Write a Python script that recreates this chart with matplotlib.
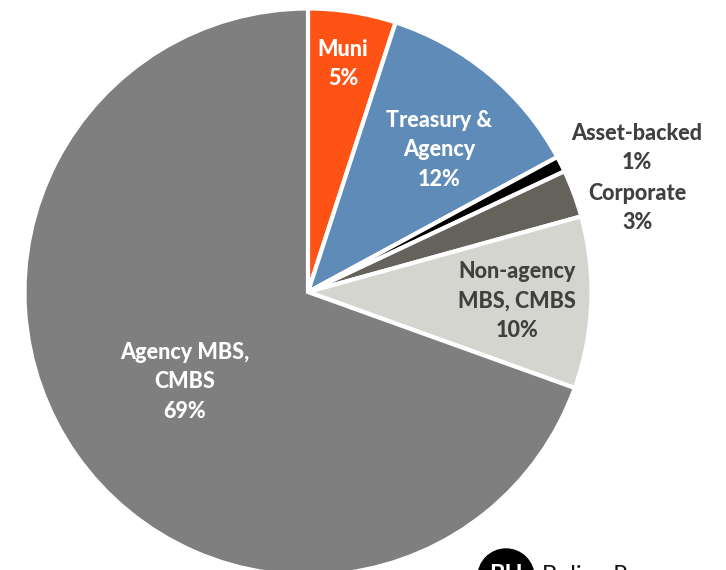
import matplotlib
matplotlib.use("Agg")
import matplotlib.pyplot as plt
from matplotlib.patches import Circle

categories = ["Muni", "Treasury & Agency", "Asset-backed", "Corporate", "Non-agency MBS, CMBS", "Agency MBS, CMBS"]
values = [5.0, 12.1, 0.9, 2.7, 9.8, 69.5]
colors = ["#FF5316", "#5F8BB8", "#000000", "#65625B", "#D5D5D0", "#7F7F7F"]
labels = ["Muni\n5%", "Treasury &\nAgency\n12%", "Asset-backed\n1%", "Corporate\n3%", "Non-agency\nMBS, CMBS\n10%", "Agency MBS,\nCMBS\n69%"]
label_colors = ["white", "white", "#404040", "#404040", "#404040", "white"]
label_px = [(343, 64), (439, 150), (637, 148), (637, 208), (517, 301), (185, 382)]

W, H = 726, 570
plt.rcParams["font.family"] = ["Lato", "DejaVu Sans"]
fig = plt.figure(figsize=(W / 100, H / 100), dpi=100)
ax = fig.add_axes([0, 0, 1, 1])
ax.pie(values, colors=colors, startangle=-90, counterclock=True,
       center=(308, 292), radius=283.5,
       wedgeprops=dict(edgecolor="white", linewidth=3), frame=False)
ax.set_xlim(0, W)
ax.set_ylim(H, 0)
ax.set_aspect("equal")
ax.axis("off")
for t, c, (x, y) in zip(labels, label_colors, label_px):
    ax.text(x, y, t, color=c, ha="center", va="center", fontsize=15.5, fontweight=900, linespacing=1.5)
ax.add_patch(Circle((506, 577), 28, color="black", zorder=5))
ax.text(506, 563, "BH", color="white", ha="center", va="top", fontsize=17, fontweight="bold", zorder=6)
ax.text(542, 565, "Bulien R", color="#111111", ha="left", va="top", fontsize=17, zorder=6)
fig.savefig("out.png", dpi=100)
